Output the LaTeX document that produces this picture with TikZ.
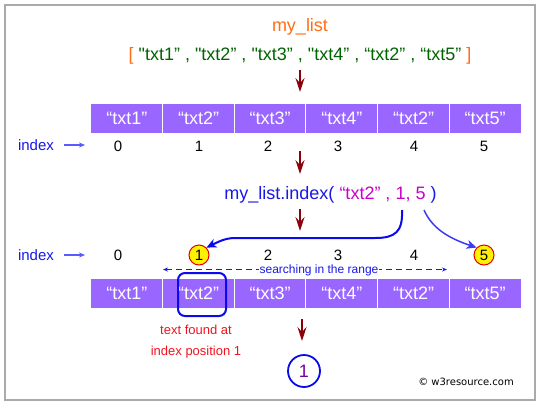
\documentclass[tikz,border=0pt]{standalone}
\usepackage{fontspec}
\setmainfont{Liberation Sans}
\newfontfamily\wfont{DejaVu Sans}
\font\qa="Liberation Sans" at 18pt
\newcommand{\sq}{{\qa"}}
\usetikzlibrary{arrows.meta}
\definecolor{framegray}{RGB}{170,170,170}
\definecolor{cellpurple}{RGB}{153,102,255}
\definecolor{lorange}{RGB}{255,110,20}
\definecolor{lgreen}{RGB}{0,100,0}
\definecolor{fblue}{RGB}{25,25,230}
\definecolor{lblue}{RGB}{90,90,255}
\definecolor{cblue}{RGB}{10,10,235}
\definecolor{mag}{RGB}{204,0,204}
\definecolor{ftred}{RGB}{240,20,30}
\definecolor{dred}{RGB}{140,0,10}
\definecolor{rpurple}{RGB}{120,0,160}
\tikzset{
  cell/.style={fill=cellpurple, draw=white, line width=1pt, minimum width=71.7pt, minimum height=30pt, inner sep=0pt, text=white, font=\fontsize{18}{21}\selectfont},
  idx/.style={text=fblue, font=\fontsize{15}{18}\selectfont, inner sep=0pt},
  num/.style={text=black, font=\fontsize{15}{18}\selectfont, inner sep=0pt},
  darr/.style={draw=dred, line width=1.6pt, -{Stealth[length=14pt,width=9pt,inset=5pt]}},
  larr/.style={draw=lblue, line width=1.3pt, -{Stealth[length=6pt,width=5pt]}},
  ycirc/.style={circle, fill=yellow, draw=red!90!black, line width=1pt, minimum size=20pt, inner sep=0pt, font=\fontsize{15}{18}\selectfont},
}
\begin{document}
\begin{tikzpicture}[x=1pt,y=-1pt]
\useasboundingbox (0,0) rectangle (541,405);
\fill[white] (0,0) rectangle (541,405);
\draw[framegray, line width=2pt] (5,5) rectangle (535,400);

\node[text=lorange, font=\fontsize{18}{21}\selectfont, inner sep=0pt] (title) at (300,27) {my\_list};
\node[font=\fontsize{18}{21}\selectfont, inner sep=0pt] (lit) at (300,56) {\color{lorange}[ \color{lgreen}\sq txt1” , \sq txt2” , \sq txt3” , \sq txt4” , “txt2” , “txt5” \color{lorange}]};

\coordinate (a1s) at (300,70); \coordinate (a1e) at (300,92);
\draw[darr] (a1s) -- (a1e);

\foreach \t [count=\k] in {txt1,txt2,txt3,txt4,txt2,txt5}{
  \node[cell] (top\k) at ({91+71.67*(\k-0.5)},118) {“\t”};
  \node[cell] (bot\k) at ({91+71.67*(\k-0.5)},293.5) {“\t”};
}

\node[idx] (ixa) at (36,145) {index};
\coordinate (ixas) at (64,145); \coordinate (ixae) at (85,145);
\draw[larr] (ixas) -- (ixae);
\foreach \x [count=\k from 0] in {118,199,268,338,414,484}{
  \node[num] (na\k) at (\x,146) {\k};
}

\coordinate (a2s) at (300,151); \coordinate (a2e) at (300,174);
\draw[darr] (a2s) -- (a2e);

\node[font=\fontsize{18}{21}\selectfont, inner sep=0pt] (call) at (330.5,195) {\color{fblue}my\_list.index( \color{mag}“txt2” , 1, 5 \color{fblue})};

\coordinate (a3s) at (300,209); \coordinate (a3e) at (300,231);
\draw[darr] (a3s) -- (a3e);

\coordinate (rgl) at (163,269.5); \coordinate (rgr) at (447,269.5);
\draw[fblue, line width=1pt, dash pattern=on 6pt off 4pt, {Stealth[length=5pt,width=4pt]}-{Stealth[length=5pt,width=4pt]}] (rgl) -- (rgr);
\node[fill=white, text=fblue, font=\fontsize{12}{14}\selectfont, inner sep=0.5pt] (rg) at (319,270) {searching in the range};

\node[idx] (ixb) at (36,255) {index};
\coordinate (ixbs) at (64,255); \coordinate (ixbe) at (85,255);
\draw[larr] (ixbs) -- (ixbe);
\node[num] (nb0) at (118,255) {0};
\node[ycirc] (nb1) at (199,255) {1};
\node[num] (nb2) at (268,255) {2};
\node[num] (nb3) at (338,255) {3};
\node[num] (nb4) at (414,255) {4};
\node[ycirc] (nb5) at (484,255) {5};

\coordinate (c1s) at (402,210);
\coordinate (c5s) at (424,210);
\draw[cblue, line width=2pt, -{Stealth[length=10pt,width=9pt,inset=3pt]}]
  (c1s) .. controls (403,232) and (395,238) .. (375,238) -- (235,238)
  .. controls (225,238) and (218,242) .. (nb1.north east);
\draw[cblue!80!white, line width=1.5pt, -{Stealth[length=10pt,width=9pt,inset=3pt]}]
  (c5s) .. controls (432,228) and (448,238) .. (nb5.north west);

\node[draw=cblue, line width=2pt, rounded corners=7pt, minimum width=48pt, minimum height=43pt] (found) at (202,294.5) {};

\node[text=ftred, font=\fontsize{13}{15}\selectfont, inner sep=0pt] (fa) at (196,330) {text found at};
\node[text=ftred, font=\fontsize{13}{15}\selectfont, inner sep=0pt] (fb) at (196,352) {index position 1};

\coordinate (a4s) at (302,319); \coordinate (a4e) at (302,341);
\draw[darr] (a4s) -- (a4e);

\node[circle, draw=cblue, line width=1.8pt, minimum size=32pt, inner sep=0pt, text=rpurple, font=\fontsize{18}{21}\selectfont] (res) at (304,371) {1};

\node[inner sep=0pt, font=\wfont\fontsize{10}{12}\selectfont] (w3) at (466,382) {© w3resource.com};
\end{tikzpicture}
\end{document}
